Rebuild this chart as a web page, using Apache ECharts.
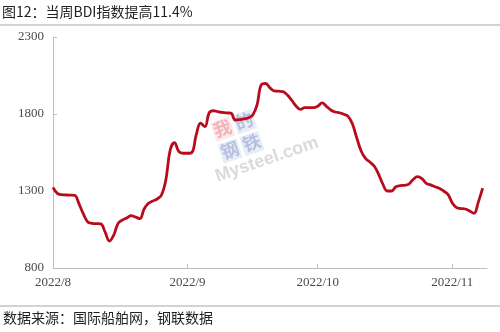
<!DOCTYPE html>
<html><head><meta charset="utf-8">
<script src="https://cdn.jsdelivr.net/npm/echarts@6/dist/echarts.min.js"></script>
<style>html,body{margin:0;padding:0;background:#fff}#c{width:500px;height:332px}</style>
</head><body><div id="c"></div>
<script>
const titleText = '图12：当周BDI指数提高11.4%';
const sourceText = '数据来源：国际船舶网，钢联数据';
const yTicks = [800, 1300, 1800, 2300];
const startDate = '2022-08-01';
const endDate = '2022-11-09';
const dates = [];
(function(){ const d0 = new Date(2022,7,1); for (let i=0;i<=99;i++){ const d=new Date(d0.getFullYear(), d0.getMonth(), d0.getDate()+i); dates.push(d.getFullYear()+'-'+String(d.getMonth()+1).padStart(2,'0')+'-'+String(d.getDate()).padStart(2,'0')); } })();
const bdi = [
1324,1285,1276,1274,1273,1272,1216,1151,1099,1090,1088,1086,1034,975,1014,1090,1112,1125,1140,1131,
1120,1183,1220,1235,1248,1274,1371,1566,1614,1555,1545,1545,1550,1664,1740,1718,1808,1821,1815,1810,
1807,1805,1761,1763,1768,1775,1792,1858,1990,1998,1970,1950,1948,1945,1923,1890,1852,1830,1841,1841,
1841,1850,1872,1850,1826,1813,1808,1798,1785,1735,1644,1560,1512,1488,1462,1410,1345,1300,1300,1328,
1335,1337,1345,1375,1393,1380,1350,1340,1328,1318,1300,1278,1222,1192,1186,1183,1170,1155,1228,1318
];

const chart = echarts.init(document.getElementById('c'), null, {renderer:'canvas'});
chart.setOption({
  animation:false,
  backgroundColor:'#fff',
  grid:{left:53, top:37, right:13, bottom:64},
  xAxis:{
    type:'time', min:startDate, max:endDate, splitNumber:3,
    minInterval: 28*86400000,
    axisLine:{lineStyle:{color:'#bfbfbf', width:1}},
    axisTick:{show:true, inside:true, length:4, lineStyle:{color:'#bfbfbf'}},
    splitLine:{show:false},
    axisLabel:{
      color:'#4a4a4a', fontFamily:'Liberation Serif', fontSize:13, margin:8,
      formatter:function(v){ const d=new Date(v); return d.getFullYear()+'/'+(d.getMonth()+1); }
    }
  },
  yAxis:{
    type:'value', min:yTicks[0], max:yTicks[yTicks.length-1], interval:500,
    axisLine:{show:true, lineStyle:{color:'#bfbfbf', width:1}},
    axisTick:{show:true, inside:true, length:4, lineStyle:{color:'#bfbfbf'}},
    splitLine:{show:false},
    axisLabel:{color:'#4a4a4a', fontFamily:'Liberation Serif', fontSize:13, margin:9,
      formatter:function(v){ return String(v); }}
  },
  graphic:[
    {type:'text', left:2, top:5, style:{text:titleText, fontFamily:'Noto Sans CJK SC', fontSize:14, fill:'#222'}},
    {type:'line', shape:{x1:0,y1:25,x2:500,y2:25}, style:{stroke:'#a6a6a6', lineWidth:1}},
    {type:'line', shape:{x1:0,y1:306,x2:500,y2:306}, style:{stroke:'#a6a6a6', lineWidth:1}},
    {type:'text', left:3, top:311, style:{text:sourceText, fontFamily:'Noto Sans CJK SC', fontSize:14, fill:'#222'}},
    {type:'group', x:210, y:123, rotation:0.33, silent:true, z:-1, children:[
      {type:'rect', shape:{x:0,y:0,width:20,height:20}, style:{fill:'rgba(230,120,130,0.16)'}},
      {type:'rect', shape:{x:23,y:0,width:20,height:20}, style:{fill:'rgba(120,140,200,0.16)'}},
      {type:'rect', shape:{x:0,y:23,width:20,height:20}, style:{fill:'rgba(120,140,200,0.16)'}},
      {type:'rect', shape:{x:23,y:23,width:20,height:20}, style:{fill:'rgba(120,140,200,0.16)'}},
      {type:'text', x:1, y:0, style:{text:'我', fontFamily:'Noto Sans CJK SC', fontSize:18, fontWeight:'bold', fill:'rgba(220,80,90,0.35)'}},
      {type:'text', x:24, y:0, style:{text:'的', fontFamily:'Noto Sans CJK SC', fontSize:18, fontWeight:'bold', fill:'rgba(90,110,180,0.35)'}},
      {type:'text', x:1, y:23, style:{text:'钢', fontFamily:'Noto Sans CJK SC', fontSize:18, fontWeight:'bold', fill:'rgba(90,110,180,0.35)'}},
      {type:'text', x:24, y:23, style:{text:'铁', fontFamily:'Noto Sans CJK SC', fontSize:18, fontWeight:'bold', fill:'rgba(90,110,180,0.35)'}},
      {type:'text', x:-12, y:44, style:{text:'Mysteel.com', fontFamily:'Liberation Sans', fontSize:18, fontWeight:'bold', fill:'rgba(150,150,150,0.35)'}}
    ]}
  ],
  series:[{
    type:'line', smooth:0.4, showSymbol:false,
    data: dates.map((d,i)=>[d,bdi[i]]),
    lineStyle:{color:'#b80c1c', width:2.8},
    z:5
  }]
});
</script></body></html>
